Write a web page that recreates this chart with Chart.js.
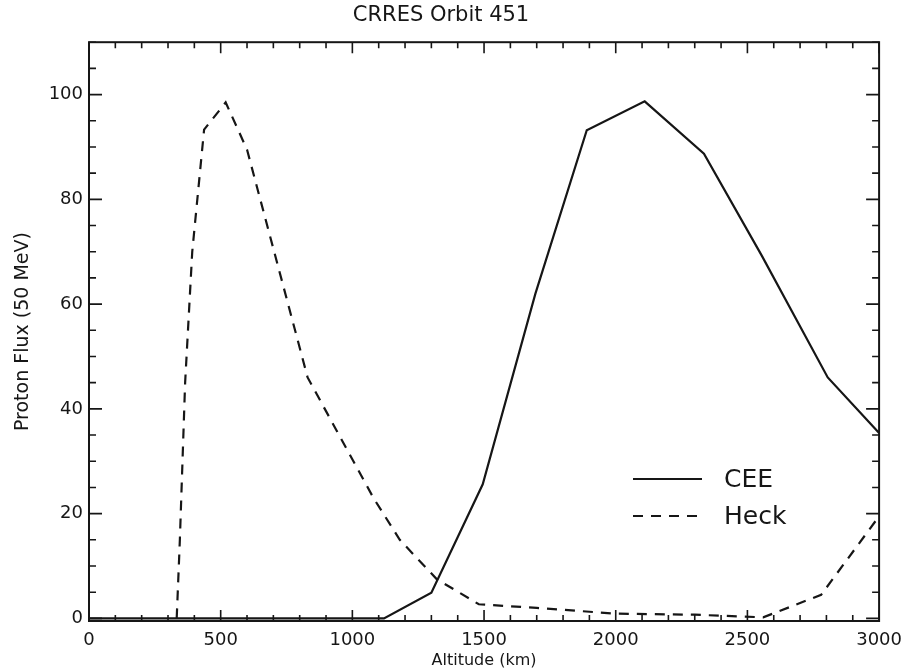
<!DOCTYPE html>
<html>
<head>
<meta charset="utf-8">
<title>CRRES Orbit 451</title>
<script src="https://cdn.jsdelivr.net/npm/chart.js@4"></script>
<style>
  html, body { margin: 0; padding: 0; background: #fff; }
  #wrap { width: 911px; height: 672px; position: relative; }
</style>
</head>
<body>
<div id="wrap"><canvas id="orbitChart"></canvas></div>
<script>
/* Data */
const ceeAlt   = [0, 1120, 1300, 1495, 1695, 1890, 2110, 2335, 2555, 2805, 3000];
const ceeFlux  = [0, 0, 4.9, 25.6, 62, 93.2, 98.7, 88.7, 69.2, 46, 35.4];

const heckAlt  = [333, 345, 365, 392, 437, 519, 600, 830, 1080, 1180, 1320, 1480, 1700, 2000, 2300, 2560, 2780, 3000];
const heckFlux = [0, 15, 45, 70, 93.3, 98.5, 89.5, 46, 23, 15, 7.5, 2.7, 2.0, 0.9, 0.7, 0.2, 4.5, 19.5];

const xTicks = [0, 500, 1000, 1500, 2000, 2500, 3000];
const yTicks = [0, 20, 40, 60, 80, 100];

const INK = '#161616';
const FONT = "'DejaVu Sans', sans-serif";

const toPoints = (xs, ys) => xs.map((x, i) => ({ x: x, y: ys[i] }));

/* Inward ticks on all four sides + frame (IDL style) */
const frameTicks = {
  id: 'frameTicks',
  afterDraw(chart) {
    const { ctx, chartArea: a, scales: { x, y } } = chart;
    ctx.save();
    ctx.strokeStyle = INK;
    ctx.lineWidth = 2;
    ctx.strokeRect(a.left, a.top, a.right - a.left, a.bottom - a.top);

    ctx.lineWidth = 1.6;
    ctx.beginPath();
    for (let v = 0; v <= 3000; v += 100) {
      const px = x.getPixelForValue(v);
      const len = v % 500 === 0 ? 11 : 6;
      ctx.moveTo(px, a.bottom); ctx.lineTo(px, a.bottom - len);
      ctx.moveTo(px, a.top);    ctx.lineTo(px, a.top + len);
    }
    for (let v = 0; v <= 110; v += 5) {
      const py = y.getPixelForValue(v);
      const len = v % 20 === 0 ? 13 : 7;
      ctx.moveTo(a.left, py);  ctx.lineTo(a.left + len, py);
      ctx.moveTo(a.right, py); ctx.lineTo(a.right - len, py);
    }
    ctx.stroke();

    /* legend inside the plot */
    const items = chart.data.datasets;
    const lx0 = 633, lx1 = 702, tx = 724;
    const rows = [479, 516];
    ctx.font = '25px ' + FONT;
    ctx.fillStyle = INK;
    ctx.textBaseline = 'middle';
    items.forEach((ds, i) => {
      ctx.beginPath();
      ctx.lineWidth = 2;
      ctx.setLineDash(ds.borderDash || []);
      ctx.moveTo(lx0, rows[i]); ctx.lineTo(lx1, rows[i]);
      ctx.stroke();
      ctx.setLineDash([]);
      ctx.fillText(ds.label, tx, rows[i] + 1);
    });
    ctx.restore();
  }
};

new Chart(document.getElementById('orbitChart'), {
  type: 'line',
  data: {
    datasets: [
      {
        label: 'CEE',
        data: toPoints(ceeAlt, ceeFlux),
        borderColor: INK,
        borderWidth: 2.2,
        pointRadius: 0,
        tension: 0,
        fill: false
      },
      {
        label: 'Heck',
        data: toPoints(heckAlt, heckFlux),
        borderColor: INK,
        borderWidth: 2.2,
        borderDash: [10, 8],
        pointRadius: 0,
        tension: 0,
        fill: false
      }
    ]
  },
  options: {
    responsive: true,
    maintainAspectRatio: false,
    animation: false,
    layout: { padding: { top: 0, right: 29, bottom: 0, left: 0 } },
    plugins: {
      legend: { display: false },
      tooltip: { enabled: false },
      title: {
        display: true,
        text: 'CRRES Orbit 451',
        color: INK,
        font: { family: FONT, size: 21, weight: 'normal' },
        padding: { top: 3, bottom: 14 }
      }
    },
    scales: {
      x: {
        type: 'linear',
        min: 0,
        max: 3000,
        afterBuildTicks: s => { s.ticks = xTicks.map(v => ({ value: v })); },
        afterFit: s => { s.height = 51; },
        grid: { display: false, drawTicks: false },
        border: { display: false },
        ticks: {
          color: INK, padding: 9, maxRotation: 0,
          font: { family: FONT, size: 18 },
          callback: v => String(v)
        },
        title: {
          display: true,
          text: 'Altitude (km)',
          color: INK,
          font: { family: FONT, size: 16 },
          padding: { top: 0, bottom: 2 }
        }
      },
      y: {
        min: -0.5,
        max: 110,
        afterBuildTicks: s => { s.ticks = yTicks.map(v => ({ value: v })); },
        afterFit: s => { s.width = 89; },
        grid: { display: false, drawTicks: false },
        border: { display: false },
        ticks: {
          color: INK, padding: 6,
          font: { family: FONT, size: 18 },
          callback: v => String(v)
        },
        title: {
          display: true,
          text: 'Proton Flux (50 MeV)',
          color: INK,
          font: { family: FONT, size: 19 },
          padding: { top: 12, bottom: 0 }
        }
      }
    }
  },
  plugins: [frameTicks]
});
</script>
</body>
</html>
